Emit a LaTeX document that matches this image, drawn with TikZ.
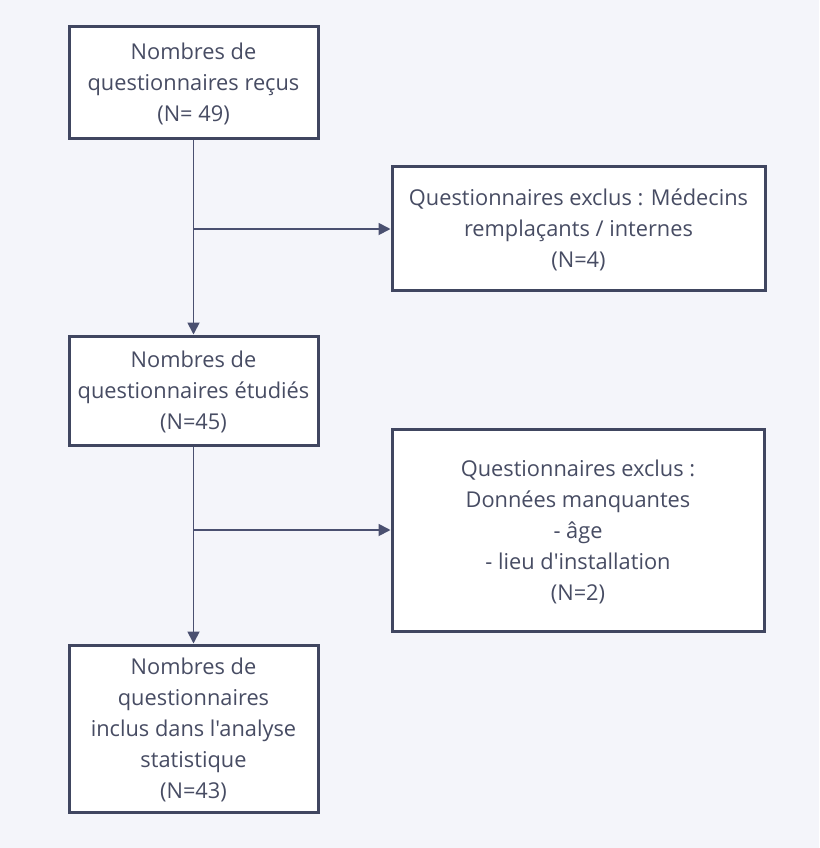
\documentclass[tikz,border=0pt]{standalone}
\usepackage{fontspec}
\setmainfont{Open Sans}[Ligatures=TeXOff]
\usetikzlibrary{arrows.meta}
\definecolor{bg}{HTML}{F4F5FA}
\definecolor{edge}{HTML}{404660}
\definecolor{link}{HTML}{4A5070}
\definecolor{txt}{HTML}{474C63}
\begin{document}
\begin{tikzpicture}[x=1pt,y=-1pt,
  box/.style={draw=edge,line width=3pt,fill=white,text=txt,align=center,
    font=\fontsize{21.8}{31}\selectfont,inner sep=0pt,text depth=0pt},
  conn/.style={draw=link,line width=1.8pt,-{Triangle[length=12pt,width=12pt]}}]
\fill[bg] (0,0) rectangle (819,848);
\useasboundingbox (0,0) rectangle (819,848);
\node[box,minimum width=249pt,minimum height=111pt] (b1) at (193.5,82.5)
  {Nombres de\\questionnaires reçus\\(N= 49)};
\node[box,minimum width=373pt,minimum height=124pt] (b2) at (578.5,228)
  {Questionnaires exclus : Médecins\\remplaçants / internes\\(N=4)};
\node[box,minimum width=249pt,minimum height=109pt] (b3) at (193.5,390.5)
  {Nombres de\\questionnaires étudiés\\(N=45)};
\node[box,minimum width=372pt,minimum height=202pt] (b4) at (578,530)
  {Questionnaires exclus :\\Données manquantes\\- âge\\- lieu d'installation\\(N=2)};
\node[box,minimum width=249pt,minimum height=167pt] (b5) at (193.5,728.5)
  {Nombres de\\questionnaires\\inclus dans l'analyse\\statistique\\(N=43)};
\coordinate (j1) at (193.5,229);
\coordinate (j2) at (193.5,530);
\draw[conn] (b1.south) -- (b3.north);
\draw[conn] (j1) -- (b2.west|-j1);
\draw[conn] (b3.south) -- (b5.north);
\draw[conn] (j2) -- (b4.west|-j2);
\end{tikzpicture}
\end{document}
